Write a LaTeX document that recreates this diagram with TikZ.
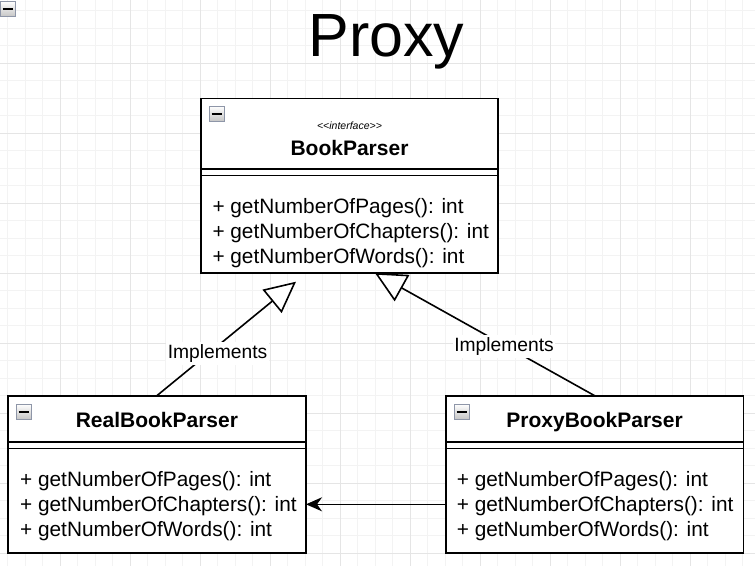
\documentclass[tikz,border=0pt]{standalone}
\usepackage{fontspec}
\setmainfont{Liberation Sans}
\usetikzlibrary{arrows.meta}
\definecolor{gridminor}{HTML}{F3F3F3}
\definecolor{gridmajor}{HTML}{E5E5E5}
\definecolor{iconedge}{HTML}{8E96A8}
\definecolor{iconlow}{HTML}{C6C6C6}
\tikzset{
  classbox/.style={draw=black, line width=1.6pt, fill=white, anchor=north west, inner sep=0pt, outer sep=0pt},
  divider/.style={draw=black, line width=1.6pt},
  method/.style={anchor=base west, inner sep=0pt, font=\fontsize{20.8}{25}\selectfont},
  cname/.style={anchor=base, inner sep=0pt, font=\fontsize{21}{25}\selectfont\bfseries},
  stereo/.style={anchor=base, inner sep=0pt, font=\fontsize{10.5}{12}\selectfont\itshape},
  titletext/.style={anchor=base, inner sep=0pt, font=\fontsize{61}{70}\selectfont},
  implline/.style={draw=black, line width=1.6pt, -{Triangle[length=31pt,width=30pt,fill=white]}},
  implabel/.style={anchor=base, fill=white, inner xsep=1.5pt, inner ysep=2.5pt, font=\fontsize{19.25}{22}\selectfont},
  callline/.style={draw=black, line width=1.6pt, -{Stealth[length=16pt,width=14pt,inset=5pt]}},
  pics/collapse/.style={code={
    \draw[iconedge, line width=1pt, top color=white, bottom color=iconlow] (0,0) rectangle (15,15);
    \draw[black, line width=2.5pt] (2.5,7.8) -- (12.5,7.8);
  }},
}
\begin{document}
\begin{tikzpicture}[x=1pt,y=-1pt]
\useasboundingbox (0,0) rectangle (755,566);
\fill[white] (0,0) rectangle (755,566);
% grid
\begin{scope}
\clip (0,0) rectangle (755,566);
\foreach \x in {7.5,25,...,755} \draw[gridminor, line width=1pt] (\x,0) -- (\x,566);
\foreach \y in {10.5,28,...,566} \draw[gridminor, line width=1pt] (0,\y) -- (755,\y);
\foreach \x in {60,130,...,755} \draw[gridmajor, line width=1pt] (\x,0) -- (\x,566);
\foreach \y in {63,133,...,566} \draw[gridmajor, line width=1pt] (0,\y) -- (755,\y);
\end{scope}

% title
\node[titletext] (title) at (386.5,56) {Proxy};

% BookParser
\node[classbox, minimum width=297.3pt, minimum height=174.7pt] (bp) at (200.7,98.3) {};
\draw[divider] (200.7,168.7) -- (498,168.7);
\draw[divider] (200.7,175.5) -- (498,175.5);
\node[stereo] (bpster) at (349.5,129) {<\kern0pt<interface>\kern0pt>};
\node[cname] (bpname) at (349.5,155) {BookParser};
\node[method] (bpm1) at (212.3,213.3) {+ getNumberOfPages(): int};
\node[method] (bpm2) at (212.3,238.3) {+ getNumberOfChapters(): int};
\node[method] (bpm3) at (212.3,263.3) {+ getNumberOfWords(): int};

% RealBookParser
\node[classbox, minimum width=298.3pt, minimum height=157.3pt] (real) at (7.7,395.7) {};
\draw[divider] (7.7,441.7) -- (306,441.7);
\draw[divider] (7.7,448.3) -- (306,448.3);
\node[cname] (realname) at (156.9,427.3) {RealBookParser};
\node[method] (realm1) at (20,486.7) {+ getNumberOfPages(): int};
\node[method] (realm2) at (20,511.7) {+ getNumberOfChapters(): int};
\node[method] (realm3) at (20,536.7) {+ getNumberOfWords(): int};

% ProxyBookParser
\node[classbox, minimum width=297.3pt, minimum height=157.3pt] (proxy) at (446,395.7) {};
\draw[divider] (446,441.7) -- (743.3,441.7);
\draw[divider] (446,448.3) -- (743.3,448.3);
\node[cname] (proxyname) at (594.6,427.3) {ProxyBookParser};
\node[method] (proxym1) at (456.7,486.7) {+ getNumberOfPages(): int};
\node[method] (proxym2) at (456.7,511.7) {+ getNumberOfChapters(): int};
\node[method] (proxym3) at (456.7,536.7) {+ getNumberOfWords(): int};

% connectors
\coordinate (tipL) at (296,281.7);
\coordinate (tipR) at (375,273);
\coordinate (callstart) at (446,504.3);
\draw[implline] (real.north) -- (tipL);
\draw[implline] (proxy.north) -- (tipR);
\draw[callline] (callstart) -- (real.east |- callstart);
\node[implabel] (lblL) at (217.5,358.3) {Implements};
\node[implabel] (lblR) at (504,351) {Implements};

% collapse icons
\pic at (0,1.3) {collapse};
\pic at (209,106) {collapse};
\pic at (16,404) {collapse};
\pic at (454,404) {collapse};
\end{tikzpicture}
\end{document}
